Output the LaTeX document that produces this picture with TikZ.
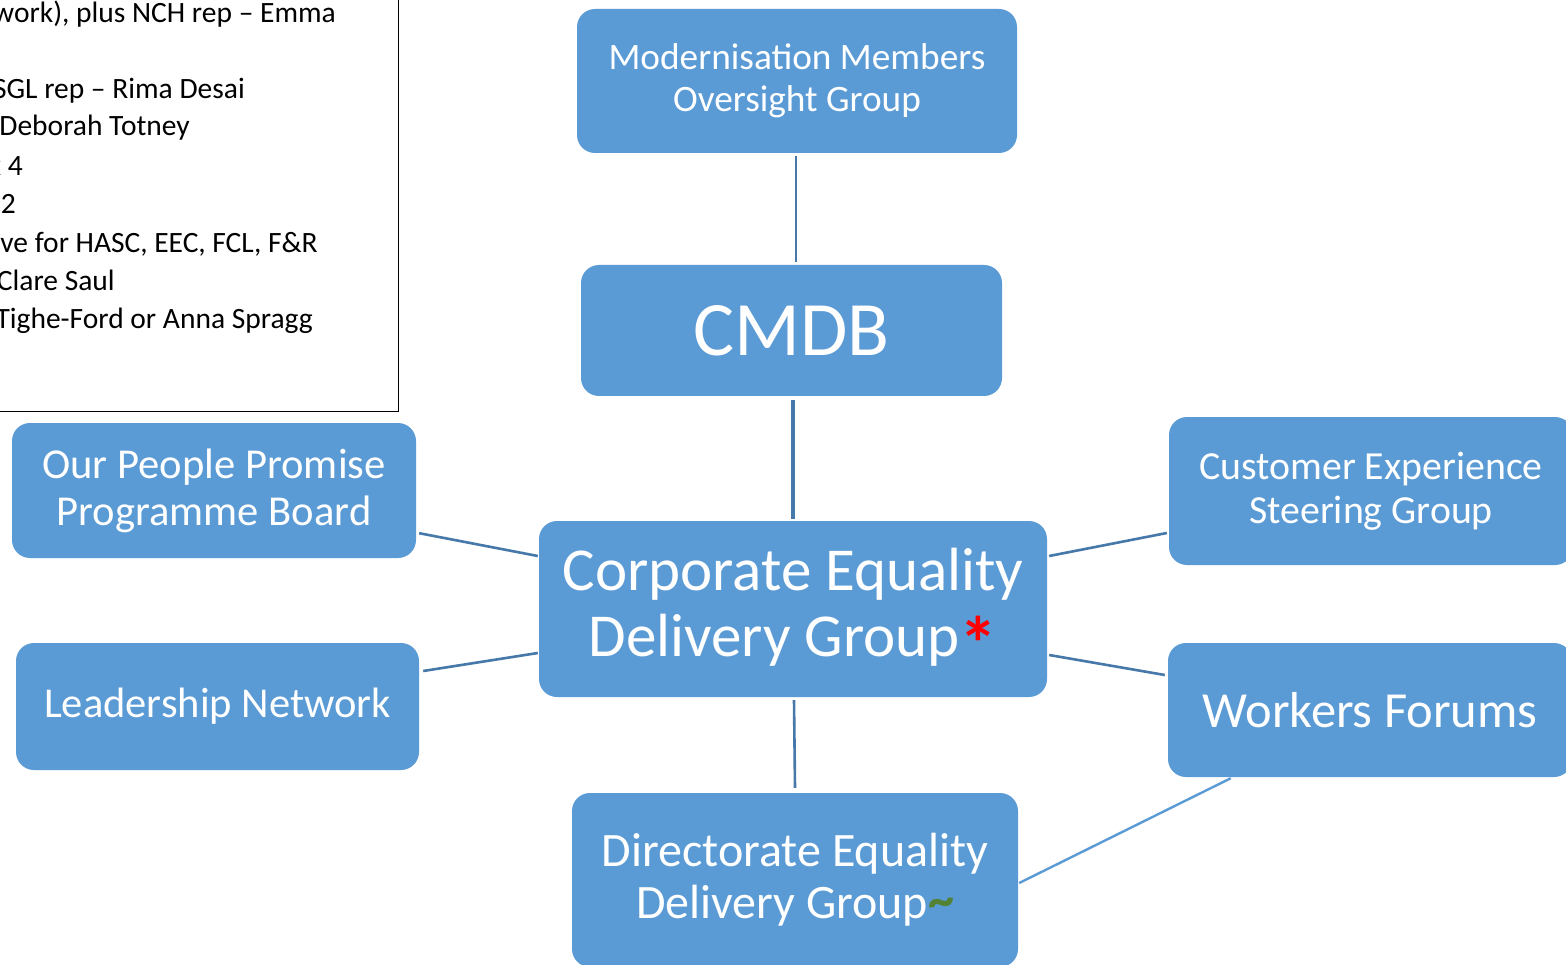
\documentclass[tikz,border=0pt]{standalone}
\usepackage{fontspec}
\setmainfont{Carlito}
\usetikzlibrary{calc}
\definecolor{boxfill}{RGB}{91,155,213}
\definecolor{linkcol}{RGB}{70,120,170}
\definecolor{astgreen}{RGB}{84,130,53}
\tikzset{
  box/.style={fill=boxfill, draw=none, rounded corners=18pt, text=white, align=center, inner sep=0pt},
  link/.style={draw=linkcol, line width=2.6pt},
  lightlink/.style={draw=boxfill, line width=2.4pt},
  note/.style={anchor=base east, inner sep=0pt, font=\fontsize{29.5}{35}\selectfont, text=black}
}
\begin{document}
\begin{tikzpicture}[x=1pt,y=-1pt]
\useasboundingbox (0,0) rectangle (1566,965);
\clip (0,0) rectangle (1566,965);
\fill[white] (0,0) rectangle (1566,965);
% note box
\draw[black, line width=1pt] (-10,-10) rectangle (398,411);
\node[note] (l1) at (336,23) {work), plus NCH rep – Emma};
\node[note] (l2) at (245,99) {SGL rep – Rima Desai};
\node[note] (l3) at (190,136) {Deborah Totney};
\node[note] (l4) at (23,176) {x 4};
\node[note] (l5) at (16,214) {x 2};
\node[note] (l6) at (318,253) {ve for HASC, EEC, FCL, F\&R};
\node[note] (l7) at (115,291) {Clare Saul};
\node[note] (l8) at (313,329) {Tighe-Ford or Anna Spragg};
% boxes
\node[box, minimum width=440pt, minimum height=144pt, font=\fontsize{37.3}{42}\selectfont] (mod) at (797,81) {Modernisation Members\\Oversight Group};
\node[box, minimum width=421pt, minimum height=131pt, font=\fontsize{77}{90}\selectfont] (cmdb) at (791.5,330.5) {CMDB};
\node[box, minimum width=404pt, minimum height=135pt, font=\fontsize{42.6}{47}\selectfont] (opp) at (214,490.5) {Our People Promise\\Programme Board};
\node[box, minimum width=403pt, minimum height=127pt, font=\fontsize{42.5}{47}\selectfont] (lead) at (217.5,706.5) {Leadership Network};
\node[box, minimum width=508pt, minimum height=176pt, font=\fontsize{61}{66}\selectfont] (ceg) at (793,609) {Corporate Equality\\Delivery Group\raisebox{-14pt}{\fontsize{76}{76}\selectfont\textcolor{red}{\textbf{*}}}};
\node[box, minimum width=404pt, minimum height=148pt, font=\fontsize{39.8}{44}\selectfont] (cust) at (1371,491) {Customer Experience\\Steering Group};
\node[box, minimum width=404pt, minimum height=134pt, font=\fontsize{50.5}{52}\selectfont] (work) at (1370,710) {Workers Forums};
\node[box, minimum width=446pt, minimum height=174pt, font=\fontsize{48}{52}\selectfont] (deg) at (795,880) {Directorate Equality\\Delivery Group\raisebox{1pt}{\fontsize{52}{52}\selectfont\textcolor{astgreen}{\textbf{\textasciitilde}}}};
% connectors
\draw[link, line width=2pt] ($(mod.south)+(-1,3)$) -- ($(cmdb.north)+(4.5,-3)$);
\draw[link, line width=3.2pt] ($(cmdb.south)+(1.5,4)$) -- ($(ceg.north)+(0,-2)$);
\draw[link] ($(opp.south east)+(3,-25)$) -- ($(ceg.west)+(-1,-53)$);
\draw[link] ($(lead.east)+(4,-35.5)$) -- ($(ceg.west)+(-1,44)$);
\draw[link] ($(ceg.east)+(2,-53)$) -- ($(cust.west)+(-2,42)$);
\draw[link] ($(ceg.east)+(2,46)$) -- ($(work.west)+(-3,-35)$);
\draw[link] ($(ceg.south)+(1,3)$) -- ($(deg.north)+(0,-5)$);
\draw[lightlink] ($(work.south west)+(63,1)$) -- ($(deg.east)+(1,3)$);
\end{tikzpicture}
\end{document}
